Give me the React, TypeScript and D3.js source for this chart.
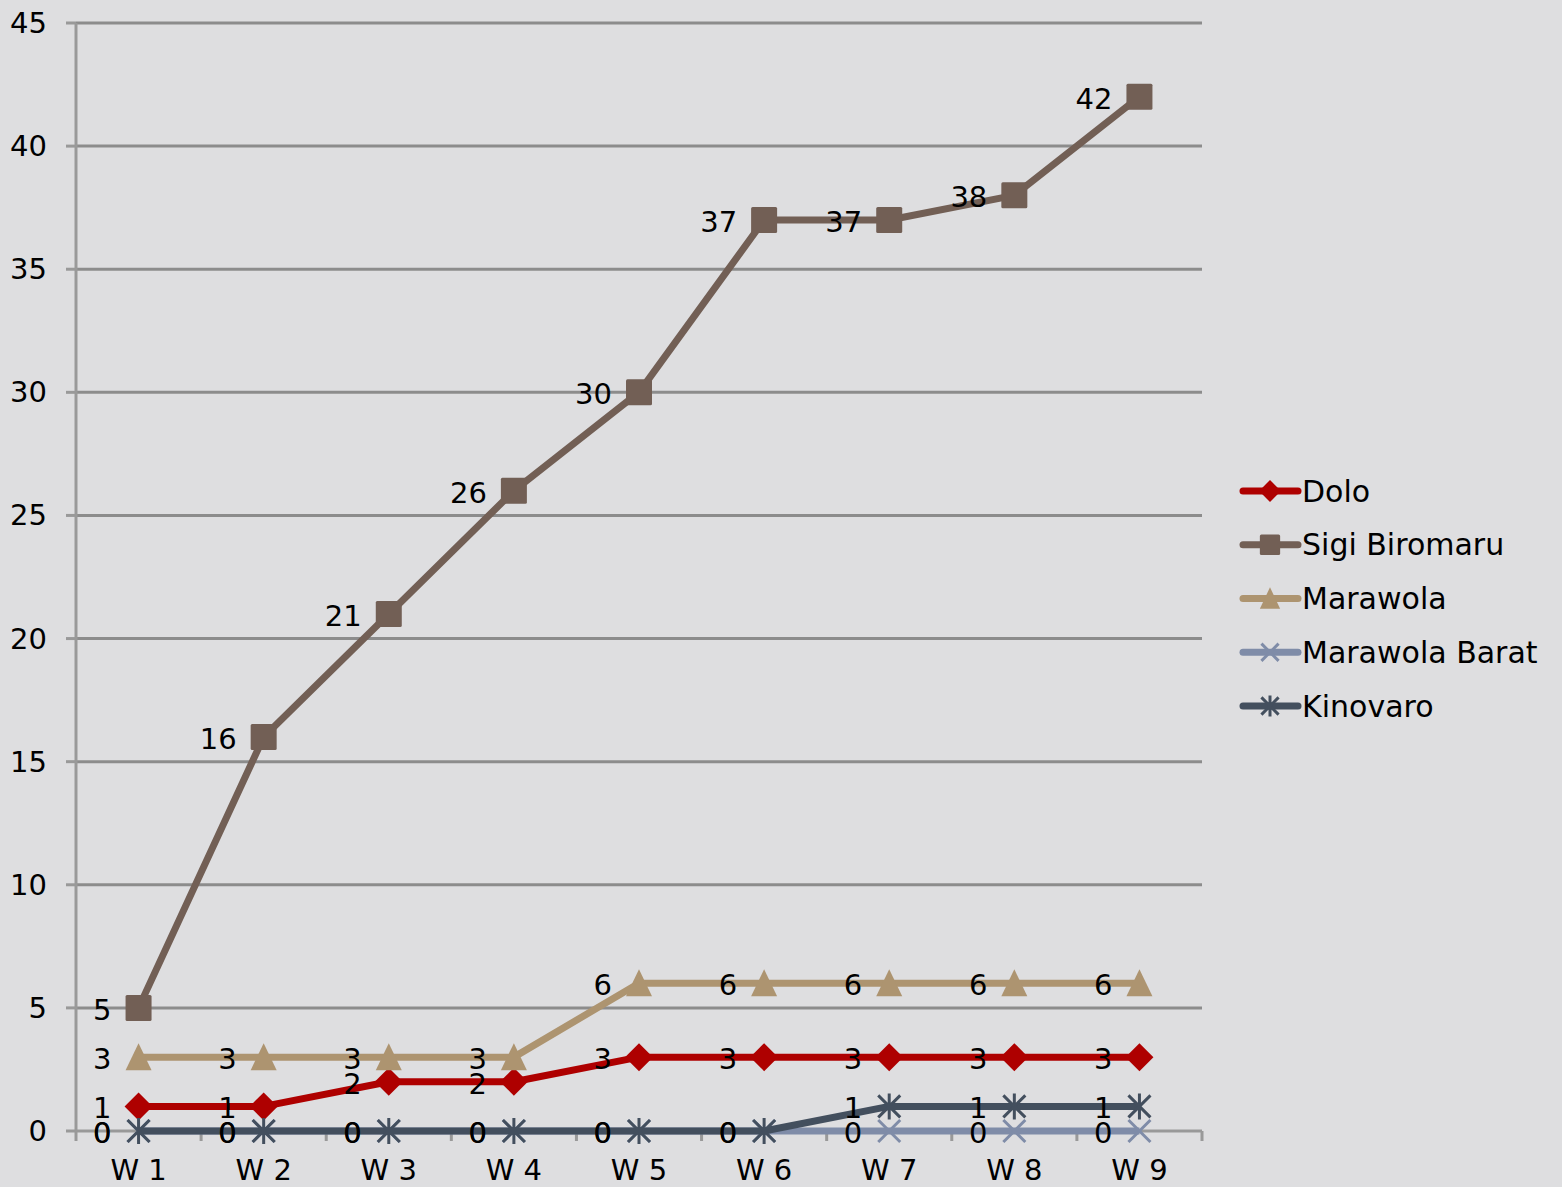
import React from "react";
import * as d3 from "d3";

const categories = ["W 1", "W 2", "W 3", "W 4", "W 5", "W 6", "W 7", "W 8", "W 9"];
const seriesNames = ["Dolo", "Sigi Biromaru", "Marawola", "Marawola Barat", "Kinovaro"];
const dolo = [1, 1, 2, 2, 3, 3, 3, 3, 3];
const sigi = [5, 16, 21, 26, 30, 37, 37, 38, 42];
const marawola = [3, 3, 3, 3, 6, 6, 6, 6, 6];
const marawolaBarat = [0, 0, 0, 0, 0, 0, 0, 0, 0];
const kinovaro = [0, 0, 0, 0, 0, 0, 1, 1, 1];
const yTicks = [0, 5, 10, 15, 20, 25, 30, 35, 40, 45];

const seriesValues = [dolo, sigi, marawola, marawolaBarat, kinovaro];
const colors = ["#ae0000", "#725f55", "#ad9470", "#7f8ca8", "#434f5e"];
const markers = ["diamond", "square", "triangle", "x", "star"];

const W = 1562, H = 1187;
const left = 76, right = 1202, top = 23, bottom = 1131;
const FONT = "'DejaVu Sans', sans-serif";
const FS = 29;

function Marker({ type, x, y, color, s = 1 }: { type: string; x: number; y: number; color: string; s?: number }) {
  if (type === "diamond") {
    const r = 14 * s;
    return <path d={`M${x},${y - r}L${x + r},${y}L${x},${y + r}L${x - r},${y}Z`} fill={color} />;
  }
  if (type === "square") {
    const r = 13 * s;
    return <rect x={x - r} y={y - r} width={2 * r} height={2 * r} fill={color} rx={1.5} />;
  }
  if (type === "triangle") {
    const r = 13 * s;
    return <path d={`M${x},${y - r - 1}L${x + r},${y + r}L${x - r},${y + r}Z`} fill={color} />;
  }
  if (type === "x") {
    const r = 11 * s;
    return <path d={`M${x - r},${y - r}L${x + r},${y + r}M${x - r},${y + r}L${x + r},${y - r}`} stroke={color} strokeWidth={3} />;
  }
  const r = 11 * s;
  return (
    <path
      d={`M${x - r},${y - r}L${x + r},${y + r}M${x - r},${y + r}L${x + r},${y - r}M${x},${y - r - 2}L${x},${y + r + 2}`}
      stroke={color}
      strokeWidth={3}
    />
  );
}

export default function App() {
  const x = d3.scaleBand<string>().domain(categories).range([left, right]);
  const y = d3.scaleLinear().domain([0, 45]).range([bottom, top]);
  const cx = (c: string) => (x(c) as number) + x.bandwidth() / 2;
  const line = d3
    .line<number>()
    .x((_, i) => cx(categories[i]))
    .y((v) => y(v));

  const legendY = d3.scalePoint<string>().domain(seriesNames).range([491, 706]);

  return (
    <svg width={W} height={H} style={{ position: "absolute", left: 0, top: 0, background: "#dedee0" }}>
      <rect width={W} height={H} fill="#dedee0" />
      {yTicks.map((t) => (
        <g key={t}>
          {t > 0 && <line x1={left} x2={right} y1={y(t)} y2={y(t)} stroke="#8c8c8c" strokeWidth={3} />}
          <line x1={66} x2={left} y1={y(t)} y2={y(t)} stroke="#999" strokeWidth={3} />
          <text x={47} y={y(t)} textAnchor="end" dominantBaseline="central" fontFamily={FONT} fontSize={FS} fill="#000">
            {t}
          </text>
        </g>
      ))}
      <line x1={left} x2={left} y1={top} y2={bottom + 10} stroke="#999" strokeWidth={3} />
      <line x1={left} x2={right} y1={bottom} y2={bottom} stroke="#999" strokeWidth={3} />
      {categories.map((c, i) => (
        <line key={"t" + i} x1={(x(c) as number) + x.bandwidth()} x2={(x(c) as number) + x.bandwidth()} y1={bottom} y2={bottom + 10} stroke="#999" strokeWidth={3} />
      ))}
      {categories.map((c) => (
        <text key={c} x={cx(c)} y={1170} textAnchor="middle" dominantBaseline="central" fontFamily={FONT} fontSize={FS} fill="#000">
          {c}
        </text>
      ))}
      {seriesValues.map((vals, si) => (
        <g key={si}>
          <path d={line(vals) as string} fill="none" stroke={colors[si]} strokeWidth={7} strokeLinejoin="round" />
          {vals.map((v, i) => (
            <Marker key={i} type={markers[si]} x={cx(categories[i])} y={y(v)} color={colors[si]} />
          ))}
        </g>
      ))}
      {seriesValues.map((vals, si) => (
        <g key={"l" + si}>
          {vals.map((v, i) => (
            <text
              key={i}
              x={cx(categories[i]) - 27}
              y={y(v) + 2}
              textAnchor="end"
              dominantBaseline="central"
              fontFamily={FONT}
              fontSize={FS}
              fill="#000"
            >
              {v}
            </text>
          ))}
        </g>
      ))}
      {seriesNames.map((n, si) => {
        const ly = legendY(n) as number;
        return (
          <g key={n}>
            <line x1={1243} x2={1298} y1={ly} y2={ly} stroke={colors[si]} strokeWidth={7} strokeLinecap="round" />
            <Marker type={markers[si]} x={1270} y={ly} color={colors[si]} s={0.78} />
            <text x={1302} y={ly} dominantBaseline="central" fontFamily={FONT} fontSize={30} fill="#000">
              {n}
            </text>
          </g>
        );
      })}
    </svg>
  );
}
